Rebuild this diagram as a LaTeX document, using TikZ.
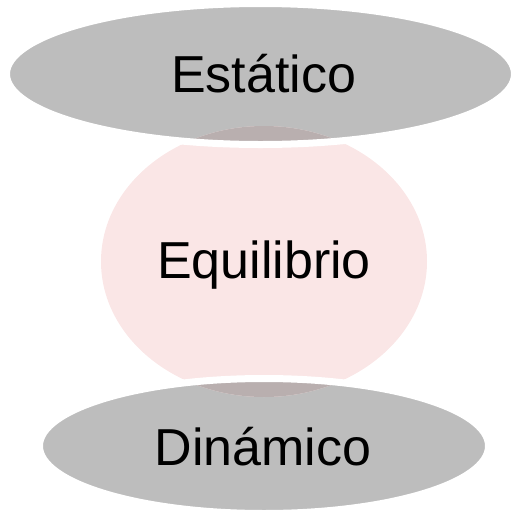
\documentclass[tikz,border=0pt]{standalone}
\usepackage{fontspec}
\setmainfont{Liberation Sans}
\usetikzlibrary{positioning}

\definecolor{blobgray}{HTML}{BDBDBD}
\definecolor{blobpink}{HTML}{FAE6E6}
\definecolor{blobmix}{HTML}{B9AFAF}

\begin{document}
\begin{tikzpicture}[
    x = 1pt,
    y = -1pt,
    lbl/.style={
        font = \fontsize{52}{60}\selectfont,
        anchor = base,
        inner sep = 0pt,
        },
    topshape/.style={insert path={(260.5,74) ellipse [x radius=254, y radius=70.5]}},
    botshape/.style={insert path={(264,446) ellipse [x radius=224.5, y radius=67.5]}},
    midshape/.style={insert path={(264,261.5) ellipse [x radius=163, y radius=135.5]}},
]

\useasboundingbox (0,0) rectangle (511,512);

\fill[blobgray, topshape];
\fill[blobgray, botshape];
\fill[blobpink, midshape];

% overlap of the middle disc with the two ellipses
\begin{scope}
    \clip[midshape];
    \fill[blobmix, topshape];
    \fill[blobmix, botshape];
\end{scope}

\draw[white, line width=7pt, topshape];
\draw[white, line width=7pt, botshape];

\node[lbl] (estatico) at (263.5,92) {Estático};
\node[lbl] (equilibrio) at (264,278) {Equilibrio};
\node[lbl] (dinamico) at (263,465) {Dinámico};

\end{tikzpicture}
\end{document}
